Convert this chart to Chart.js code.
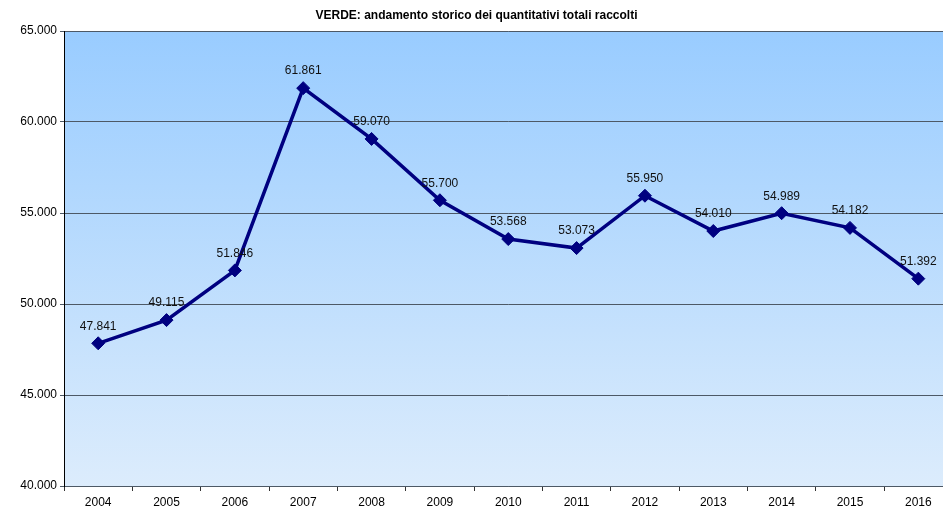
<!DOCTYPE html>
<html><head><meta charset="utf-8">
<script src="https://cdn.jsdelivr.net/npm/chart.js@4/dist/chart.umd.min.js"></script>
<style>
html,body{margin:0;padding:0;background:#fff;overflow:hidden;}
#wrap{width:960px;height:507px;position:relative;}
</style></head><body>
<div id="wrap"><canvas id="c"></canvas></div>
<script>
const categories = ['2004','2005','2006','2007','2008','2009','2010','2011','2012','2013','2014','2015','2016'];
const values = [47841, 49115, 51846, 61861, 59070, 55700, 53568, 53073, 55950, 54010, 54989, 54182, 51392];
const yTicks = [40000, 45000, 50000, 55000, 60000, 65000];
const titleText = 'VERDE: andamento storico dei quantitativi totali raccolti';

function fmt(v){ return String(Math.round(v)).replace(/\B(?=(\d{3})+(?!\d))/g, '.'); }

const bgPlugin = {
  id:'bg',
  beforeDraw(chart){
    const {ctx, chartArea:a} = chart;
    const g = ctx.createLinearGradient(0, a.top, 0, a.bottom);
    g.addColorStop(0, '#99CCFF');
    g.addColorStop(1, '#DCECFC');
    ctx.save(); ctx.fillStyle = g; ctx.fillRect(a.left, a.top, a.right-a.left, a.bottom-a.top); ctx.restore();
  }
};
const labelPlugin = {
  id:'lbl',
  afterDatasetsDraw(chart){
    const {ctx} = chart;
    const meta = chart.getDatasetMeta(0);
    ctx.save();
    ctx.font = '12px "Liberation Sans", Arial, sans-serif';
    ctx.fillStyle = '#111';
    ctx.textAlign = 'center'; ctx.textBaseline = 'middle';
    meta.data.forEach((p,i)=>{ ctx.fillText(fmt(values[i]), p.x, p.y - 17); });
    ctx.restore();
  }
};

new Chart(document.getElementById('c'), {
  type:'line',
  data:{ labels: categories, datasets:[{
    data: values, borderColor:'#000080', backgroundColor:'#000080', borderWidth:3.5,
    pointStyle:'rectRot', pointRadius:6.5, pointHoverRadius:6.5, pointBorderWidth:1, tension:0, fill:false
  }]},
  options:{
    responsive:true, maintainAspectRatio:false, animation:false,
    layout:{ padding:{ left:0, right:7, top:0, bottom:0 } },
    plugins:{
      legend:{display:false}, tooltip:{enabled:false},
      title:{ display:true, text:titleText, color:'#000',
        font:{ family:'"Liberation Sans", Arial, sans-serif', size:12, weight:'bold', lineHeight:1.2 },
        padding:{ top:8, bottom:8.6 } }
    },
    scales:{
      x:{ offset:true,
        grid:{ offset:true, drawOnChartArea:false, drawTicks:true, tickLength:5, color:'#333' },
        border:{ color:'#4d5966', width:1 },
        ticks:{ color:'#000', padding:4, maxRotation:0, autoSkip:false,
          font:{ family:'"Liberation Sans", Arial, sans-serif', size:12 } },
        afterFit(s){ s.height = 21; }
      },
      y:{ min:40000, max:65000,
        afterBuildTicks(s){ s.ticks = yTicks.map(v=>({value:v})); },
        grid:{ color:'#4d5966', lineWidth:1, tickLength:4, drawTicks:true },
        border:{ color:'#000', width:1 },
        ticks:{ color:'#000', padding:3, callback:(v)=>fmt(v),
          font:{ family:'"Liberation Sans", Arial, sans-serif', size:12 } },
        afterFit(s){ s.width = 64; }
      }
    }
  },
  plugins:[bgPlugin, labelPlugin]
});
</script>
</body></html>
